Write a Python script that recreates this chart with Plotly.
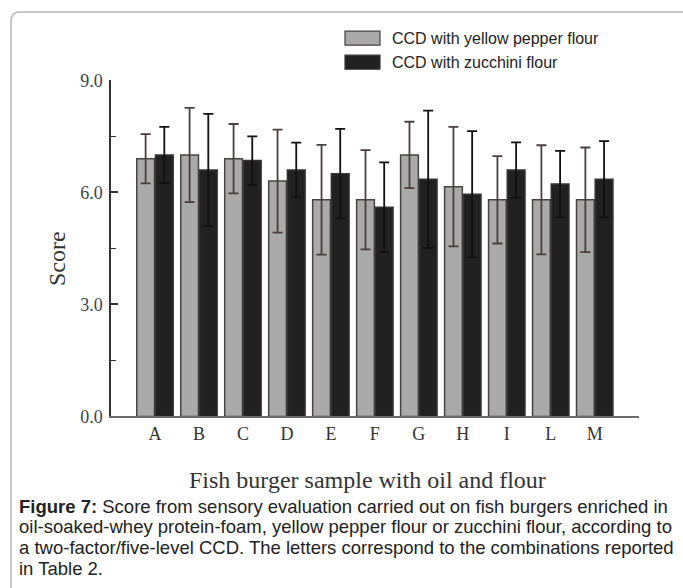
import plotly.graph_objects as go

# ---- data ----
categories = ["A", "B", "C", "D", "E", "F", "G", "H", "I", "L", "M"]
yellow_pepper = [6.9, 7.0, 6.9, 6.3, 5.8, 5.8, 7.0, 6.15, 5.8, 5.8, 5.8]
yellow_pepper_err = [0.66, 1.26, 0.93, 1.38, 1.47, 1.33, 0.89, 1.6, 1.17, 1.46, 1.4]
zucchini = [7.0, 6.6, 6.85, 6.6, 6.5, 5.6, 6.35, 5.95, 6.6, 6.22, 6.35]
zucchini_err = [0.75, 1.5, 0.65, 0.73, 1.2, 1.2, 1.84, 1.69, 0.74, 0.89, 1.02]
y_ticks = [0, 3, 6, 9]
y_tick_labels = ["0.0", "3.0", "6.0", "9.0"]
series_names = ["CCD with yellow pepper flour", "CCD with zucchini flour"]
caption_lines = [
    "<b>Figure 7:</b> Score from sensory evaluation carried out on fish burgers enriched in",
    "oil-soaked-whey protein-foam, yellow pepper flour or zucchini flour, according to",
    "a two-factor/five-level CCD. The letters correspond to the combinations reported",
    "in Table 2.",
]

W, H = 683, 588
def px(x):
    return x / W
def py(y):
    # vertical placement helper (pixel row -> paper fraction)
    y = (y - 10) / 0.962
    return 1 - y / H

SERIF = "Liberation Serif, Times New Roman, serif"
SANS = "Liberation Sans, Arial, sans-serif"
GRAY_FILL = "#a9aaa9"
DARK_FILL = "#212121"

fig = go.Figure()
fig.add_trace(go.Bar(
    x=categories, y=yellow_pepper, name=series_names[0],
    marker=dict(color=GRAY_FILL, line=dict(color="#4a4343", width=1.5)),
    error_y=dict(type="data", array=yellow_pepper_err, visible=True,
                 color="#4a3f3f", thickness=1.8, width=5),
    showlegend=False,
))
fig.add_trace(go.Bar(
    x=categories, y=zucchini, name=series_names[1],
    marker=dict(color=DARK_FILL, line=dict(color="#383434", width=1.5)),
    error_y=dict(type="data", array=zucchini_err, visible=True,
                 color="#111111", thickness=1.8, width=5),
    showlegend=False,
))

# custom legend swatches (larger than plotly's built-in symbols)
legend_items = [(series_names[0], GRAY_FILL, "#4a4343", 38),
                (series_names[1], DARK_FILL, "#383434", 62)]
shapes = []
annotations = []
for name, fill, edge, yc in legend_items:
    shapes.append(dict(type="rect", xref="paper", yref="paper",
                       x0=px(345), x1=px(380), y0=py(yc + 7), y1=py(yc - 7),
                       fillcolor=fill, line=dict(color=edge, width=1.2)))
    annotations.append(dict(text=name, xref="paper", yref="paper",
                            x=px(390), y=py(yc), xanchor="left", yanchor="middle",
                            showarrow=False,
                            font=dict(family=SANS, size=16, color="#222")))

# rounded border (top-left corner visible only)
r = 9
bx, by = 11, 12
path = (f"M {px(bx)},{py(H + 30)} L {px(bx)},{py(by + r)} "
        f"Q {px(bx)},{py(by)} {px(bx + r)},{py(by)} L {px(W + 10)},{py(by)}")
shapes.append(dict(type="path", xref="paper", yref="paper", path=path,
                   line=dict(color="#b8b8b8", width=1.5)))

# axis titles as annotations
annotations.append(dict(text="Score", xref="paper", yref="paper",
                        x=px(57), y=py(258), textangle=-90, showarrow=False,
                        xanchor="center", yanchor="middle",
                        font=dict(family=SERIF, size=24, color="#333")))
annotations.append(dict(text="Fish burger sample with oil and flour",
                        xref="paper", yref="paper", x=px(367), y=py(478),
                        xanchor="center", yanchor="middle", showarrow=False,
                        font=dict(family=SERIF, size=24, color="#333")))
# caption, one annotation per line to keep the tight line spacing
for i, line in enumerate(caption_lines):
    annotations.append(dict(text=line, xref="paper", yref="paper",
                            x=px(17), y=py(504 + 20.7 * i), xanchor="left",
                            yanchor="middle", align="left", showarrow=False,
                            font=dict(family=SANS, size=18.5, color="#222")))

fig.update_layout(
    width=W, height=H,
    margin=dict(l=0, r=0, t=0, b=0),
    paper_bgcolor="white", plot_bgcolor="white",
    barmode="group", bargap=0.15, bargroupgap=0.05,
    xaxis=dict(domain=[px(111), px(638.7)], range=[-1, 11],
               showline=True, linecolor="#6a6a6a", linewidth=1.5,
               ticks="", showgrid=False, zeroline=False,
               tickfont=dict(family=SERIF, size=18, color="#333")),
    yaxis=dict(domain=[py(414.7), py(80)], range=[0, 9],
               tickvals=y_ticks, ticktext=y_tick_labels,
               showline=True, linecolor="#333", linewidth=1.5,
               ticks="inside", ticklen=7, tickwidth=1.5, tickcolor="#333",
               minor=dict(ticks="inside", ticklen=5, dtick=1.5, tickcolor="#333", tickwidth=1.2),
               showgrid=False, zeroline=False, ticklabelstandoff=3,
               tickfont=dict(family=SERIF, size=18, color="#444")),
    shapes=shapes, annotations=annotations,
)

fig.write_html("out.html", config={"displayModeBar": False},
               post_script="document.body.style.margin='0';document.body.style.overflow='hidden';")
